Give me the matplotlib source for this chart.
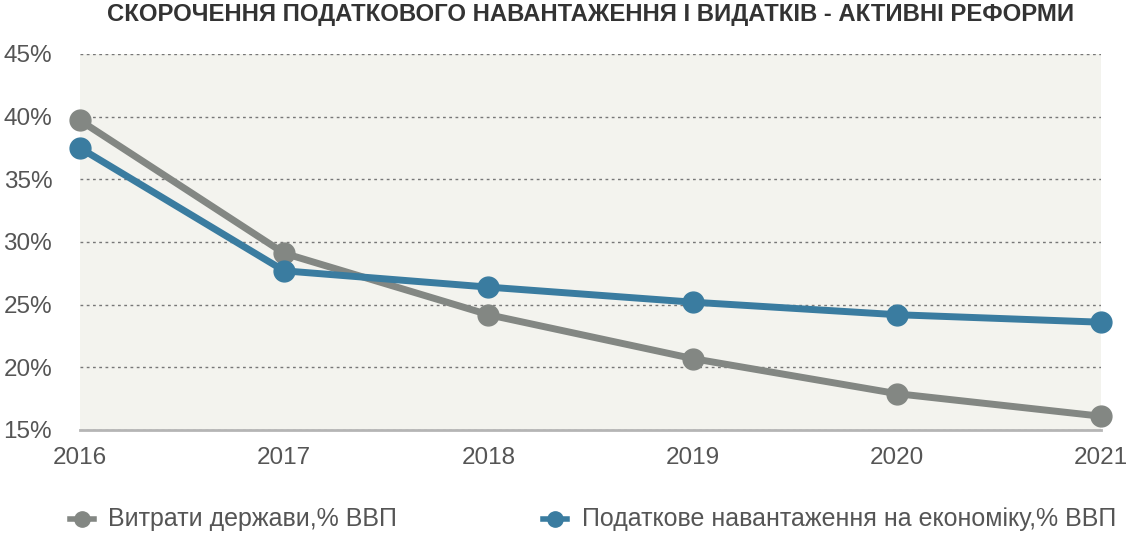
import matplotlib
matplotlib.use("Agg")
import matplotlib.pyplot as plt
from matplotlib.lines import Line2D

plt.rcParams['font.family'] = ['Liberation Sans', 'DejaVu Sans']

years = [2016, 2017, 2018, 2019, 2020, 2021]
spending = [39.7, 29.1, 24.2, 20.7, 17.9, 16.1]
tax_burden = [37.5, 27.7, 26.4, 25.2, 24.2, 23.6]
y_ticks = [15, 20, 25, 30, 35, 40, 45]

title = "СКОРОЧЕННЯ ПОДАТКОВОГО НАВАНТАЖЕННЯ І ВИДАТКІВ - АКТИВНІ РЕФОРМИ"
label_spending = "Витрати держави,% ВВП"
label_tax = "Податкове навантаження на економіку,% ВВП"

grey = '#838783'
blue = '#3a7ca0'
text_col = '#555555'

W, H = 1127, 537
fig = plt.figure(figsize=(W / 100, H / 100), dpi=100)
ax = fig.add_axes([80 / W, 1 - 430 / H, (1101 - 80) / W, (430 - 54) / H])
ax.set_facecolor('#f3f3ee')

ax.plot(years, spending, color=grey, lw=5, marker='o', ms=15, zorder=3, clip_on=False)
ax.plot(years, tax_burden, color=blue, lw=5, marker='o', ms=15, zorder=4, clip_on=False)

ax.set_xlim(2016, 2021)
ax.set_ylim(15, 45)
ax.set_yticks(y_ticks)
ax.set_yticklabels([f"{v}%" for v in y_ticks])
ax.set_xticks(years)
ax.set_xticklabels([str(y) for y in years])
ax.tick_params(axis='both', length=0, labelsize=17.5, labelcolor=text_col)
ax.tick_params(axis='y', pad=20)
ax.tick_params(axis='x', pad=12)

ax.grid(axis='y', linestyle=(0, (2, 2.5)), color='#777777', lw=1)
ax.set_axisbelow(True)
for s in ['top', 'right', 'left']:
    ax.spines[s].set_visible(False)
ax.spines['bottom'].set_color('#b5b5b5')
ax.spines['bottom'].set_linewidth(2)

fig.text(591 / W, 1 - 14 / H, title, ha='center', va='center',
         fontsize=17.2, fontweight='bold', color='#333333')

# legend drawn by hand
legend_items = [(label_spending, grey, 82, 108), (label_tax, blue, 555, 582)]
for label, col, cx, tx in legend_items:
    y = 1 - 519 / H
    fig.add_artist(Line2D([(cx - 12) / W, (cx + 12) / W], [y, y], color=col, lw=4,
                          transform=fig.transFigure))
    fig.add_artist(Line2D([cx / W], [y], color=col, marker='o', ms=11, lw=0,
                          transform=fig.transFigure))
    fig.text(tx / W, y, label, ha='left', va='center', fontsize=18, color=text_col)

fig.savefig('out.png', dpi=100)
